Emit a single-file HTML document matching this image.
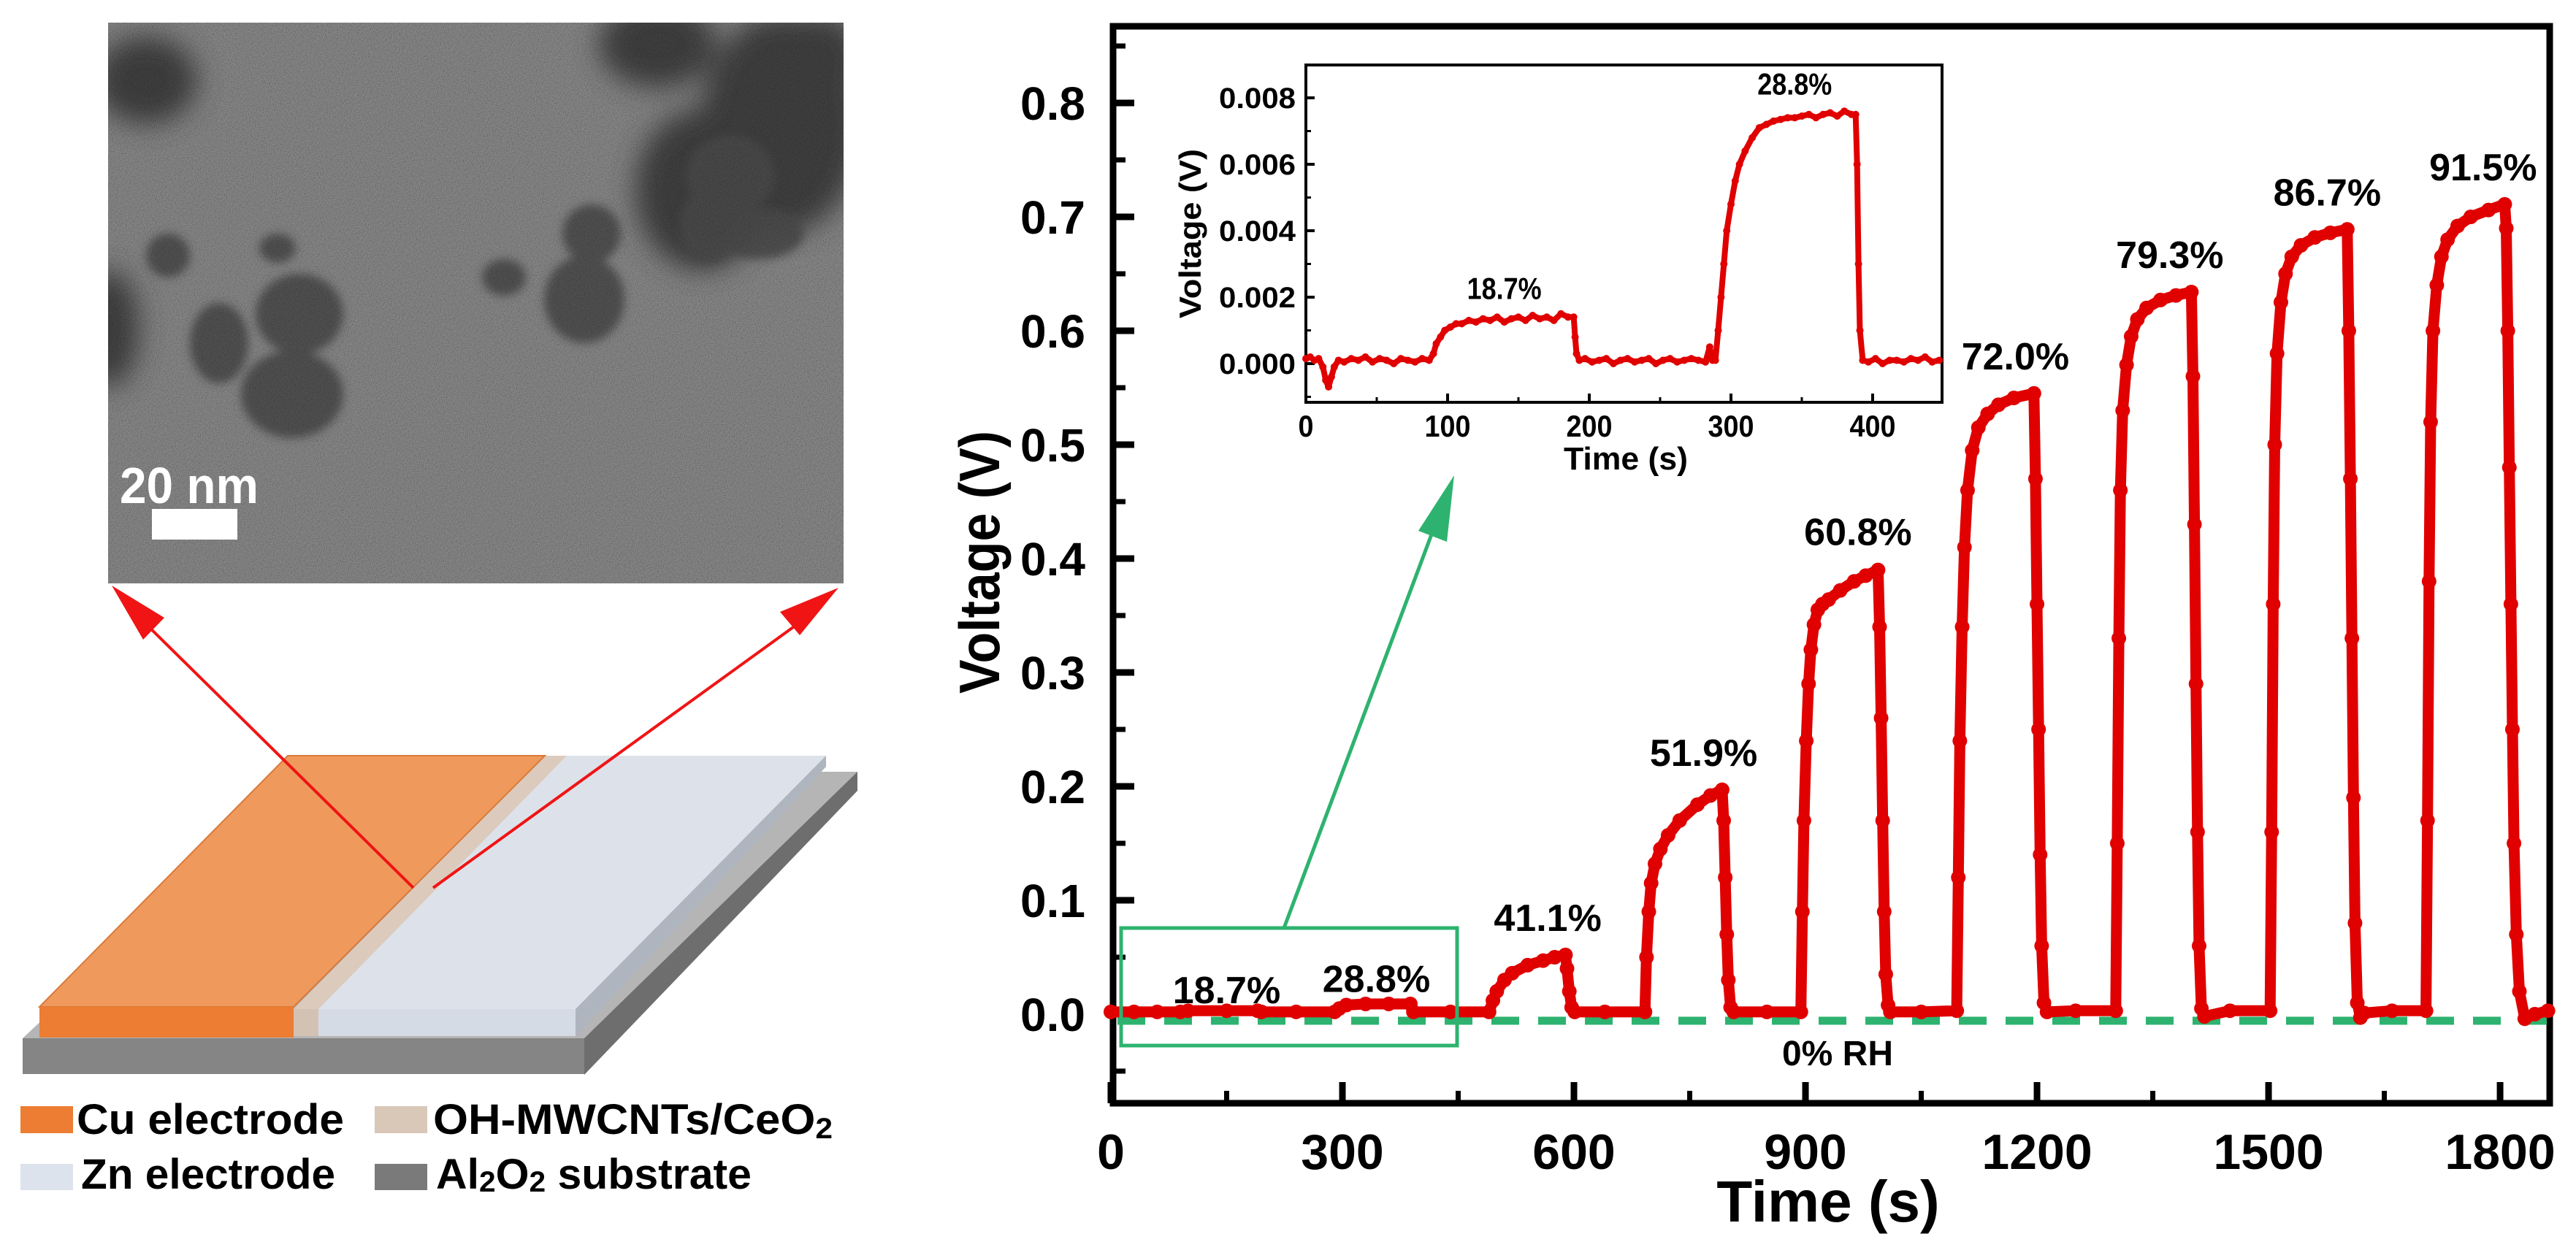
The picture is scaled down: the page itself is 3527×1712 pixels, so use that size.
<!DOCTYPE html>
<html><head><meta charset="utf-8">
<style>
html,body{margin:0;padding:0;background:#fff;}
svg{display:block;font-family:"Liberation Sans",Arial,sans-serif;}
</style></head>
<body>
<svg id="fig" width="3527" height="1712" viewBox="0 0 3527 1712" xmlns="http://www.w3.org/2000/svg">
<defs>
  <filter id="grain" x="0" y="0" width="100%" height="100%">
    <feTurbulence type="fractalNoise" baseFrequency="0.7" numOctaves="2" seed="3" result="n"/>
    <feColorMatrix type="matrix" values="1.4 0 0 0 -0.2  1.4 0 0 0 -0.2  1.4 0 0 0 -0.2  0 0 0 0 1" in="n"/>
  </filter>
  <filter id="blur6"><feGaussianBlur stdDeviation="6"/></filter>
  <filter id="blur18"><feGaussianBlur stdDeviation="18"/></filter>
  <clipPath id="temclip"><rect x="148" y="31" width="1007" height="768"/></clipPath>
</defs>

<!-- TEM image -->
<g clip-path="url(#temclip)">
  <rect x="148" y="31" width="1007" height="768" fill="#8e8e8e"/>
  <g filter="url(#blur18)" fill="#3a3a3a" opacity="0.9">
    <ellipse cx="900" cy="60" rx="80" ry="60"/>
    <ellipse cx="1070" cy="170" rx="110" ry="150"/>
    <ellipse cx="960" cy="260" rx="90" ry="110"/>
    <ellipse cx="1120" cy="80" rx="60" ry="60"/>
    <ellipse cx="200" cy="110" rx="70" ry="60"/>
    <ellipse cx="150" cy="450" rx="40" ry="80"/>
  </g>
  <g filter="url(#blur6)" fill="#505050" opacity="0.9">
    <ellipse cx="410" cy="430" rx="60" ry="55"/>
    <ellipse cx="400" cy="540" rx="70" ry="60"/>
    <ellipse cx="300" cy="470" rx="40" ry="55"/>
    <ellipse cx="800" cy="410" rx="55" ry="60"/>
    <ellipse cx="810" cy="320" rx="40" ry="40"/>
    <ellipse cx="970" cy="310" rx="40" ry="50"/>
    <ellipse cx="1040" cy="320" rx="60" ry="35"/>
    <ellipse cx="1000" cy="240" rx="60" ry="55"/>
    <ellipse cx="230" cy="350" rx="30" ry="30"/>
    <ellipse cx="690" cy="380" rx="30" ry="25"/>
    <ellipse cx="380" cy="340" rx="25" ry="20"/>
  </g>
  <rect x="148" y="31" width="1007" height="768" filter="url(#grain)" opacity="0.45" style="mix-blend-mode:multiply"/>
  <text x="164" y="689" font-size="70" font-weight="bold" fill="#fff" textLength="190" lengthAdjust="spacingAndGlyphs">20 nm</text>
  <rect x="208" y="697" width="117" height="42" fill="#fff"/>
</g>

<!-- device schematic -->
<g>
  <polygon points="31,1422 800,1422 1174,1057 1174,1080 800,1470 31,1470" fill="#8a8a8a"/>
  <polygon points="31,1422 800,1422 1174,1057 420,1057" fill="#b5b5b5"/>
  <polygon points="800,1422 1174,1057 1174,1083 800,1472" fill="#6e6e6e"/>
  <rect x="31" y="1422" width="769" height="49" fill="#858585"/>
  <polygon points="776,1035 1131,1035 1131,1050 788,1420 788,1382" fill="#aeb5be"/>
  <polygon points="436,1382 788,1382 1131,1035 776,1035" fill="#dde2ea"/>
  <rect x="436" y="1382" width="352" height="37" fill="#d5dbe4"/>
  <polygon points="402,1382 436,1382 776,1035 746,1035" fill="#dccbbd"/>
  <rect x="402" y="1382" width="34" height="37" fill="#d3c2b3"/>
  <polygon points="54,1379 402,1379 746,1035 394,1035" fill="#ef9a5c" stroke="#d9793a" stroke-width="2"/>
  <rect x="54" y="1379" width="348" height="42" fill="#ec7d32"/>
  <g stroke="#f01414" stroke-width="4" fill="#f01414">
    <line x1="566" y1="1216" x2="185" y2="840"/>
    <polygon points="153,802 225,846 196,876" stroke="none"/>
    <line x1="593" y1="1216" x2="1115" y2="838"/>
    <polygon points="1148,805 1095,870 1068,838" stroke="none"/>
  </g>
</g>

<!-- legend -->
<g font-weight="bold" font-size="58" fill="#000">
  <g>
    <rect x="28" y="1515" width="72" height="37" fill="#ec7d32"/>
    <text x="105" y="1553" textLength="366" lengthAdjust="spacingAndGlyphs">Cu electrode</text>
  </g>
  <g>
    <rect x="28" y="1594" width="72" height="36" fill="#dde3ec"/>
    <text x="111" y="1628" textLength="348" lengthAdjust="spacingAndGlyphs">Zn electrode</text>
  </g>
  <g>
    <rect x="513" y="1515" width="72" height="37" fill="#d9c7b8"/>
    <text x="593" y="1553" textLength="547" lengthAdjust="spacingAndGlyphs">OH-MWCNTs/CeO<tspan font-size="40" dy="6">2</tspan></text>
  </g>
  <g>
    <rect x="513" y="1594" width="72" height="36" fill="#7a7a7a"/>
    <text x="597" y="1628" textLength="432" lengthAdjust="spacingAndGlyphs">Al<tspan font-size="40" dy="4">2</tspan><tspan dy="-4">O</tspan><tspan font-size="40" dy="4">2</tspan><tspan dy="-4"> substrate</tspan></text>
  </g>
</g>

<g id="main"></g>
<g id="inset"></g>
</svg>

<script>
// ---- main chart data (time s, voltage V) ----
const mainTimes = [0,30,60,90,100,150,190,195,240,290,296,305,330,360,388,392,440,
 490,495,500,510,520,540,560,575,589,591,594,597,601,640,
 692,694,697,700,705,712,722,737,760,777,792,794,796,798,800,803,807,850,
 894,896,898,901,904,907,911,916,922,930,945,963,978,994,996,998,1000,1002,1004,1007,1010,1050,
 1096,1098,1100,1103,1106,1110,1116,1124,1136,1150,1170,1196,1198,1200,1202,1204,1206,1209,1213,1250,
 1302,1304,1306,1308,1311,1316,1322,1330,1342,1360,1380,1400,1402,1404,1406,1408,1410,1413,1417,1450,
 1502,1504,1506,1508,1511,1516,1522,1530,1542,1560,1580,1602,1604,1606,1608,1610,1612,1615,1619,1624,1660,
 1704,1706,1708,1710,1713,1718,1724,1732,1745,1762,1785,1806,1808,1810,1812,1814,1816,1818,1821,1825,1832,1845,1862];
const mainVolts = [0.002,0.002,0.002,0.002,0.003,0.003,0.003,0.002,0.002,0.002,0.005,0.008,0.009,0.009,0.009,0.002,0.002,
 0.002,0.012,0.02,0.03,0.036,0.043,0.047,0.05,0.052,0.04,0.02,0.006,0.002,0.002,
 0.002,0.05,0.09,0.115,0.132,0.145,0.157,0.17,0.184,0.192,0.197,0.17,0.12,0.07,0.03,0.006,0.002,0.002,
 0.002,0.09,0.17,0.24,0.29,0.32,0.342,0.355,0.36,0.364,0.372,0.38,0.385,0.39,0.34,0.26,0.17,0.09,0.035,0.008,0.002,0.002,
 0.003,0.12,0.24,0.34,0.41,0.46,0.495,0.515,0.527,0.535,0.541,0.545,0.47,0.36,0.25,0.14,0.06,0.01,0.002,0.003,
 0.003,0.15,0.33,0.46,0.53,0.57,0.595,0.61,0.62,0.627,0.631,0.634,0.56,0.43,0.29,0.16,0.06,0.005,-0.002,0.003,
 0.003,0.16,0.36,0.5,0.58,0.625,0.65,0.665,0.675,0.682,0.686,0.689,0.6,0.47,0.33,0.19,0.08,0.01,-0.003,0.001,0.003,
 0.003,0.17,0.38,0.52,0.6,0.64,0.665,0.68,0.692,0.7,0.706,0.711,0.69,0.6,0.48,0.36,0.25,0.15,0.07,0.02,-0.004,0.0,0.003,0.003];
const xTickValues = [0,300,600,900,1200,1500,1800];
const yTickValues = [0.0,0.1,0.2,0.3,0.4,0.5,0.6,0.7,0.8];
const peakLabels = ["18.7%","28.8%","41.1%","51.9%","60.8%","72.0%","79.3%","86.7%","91.5%"];
const peakLabelTimes = [150,344,566,768,968,1172,1372,1576,1778];
const peakLabelVolts = [0.0095,0.0195,0.073,0.218,0.412,0.566,0.655,0.71,0.732];

// ---- inset data ----
const insetTimes = [0,3,6,9,12,14,16,18,20,23,27,32,37,42,47,52,57,62,67,72,77,82,87,90,92,95,98,102,106,110,115,120,125,130,135,140,145,150,155,160,165,170,175,180,185,189,190,191,193,197,202,207,212,217,222,227,232,237,242,247,252,257,262,267,272,277,282,285,287,289,291,293,295,297,300,303,306,310,315,320,325,330,335,340,345,350,355,360,365,370,375,380,385,388,389,390,391,393,397,402,407,412,417,422,427,432,437,442,447];
const insetVolts = [0.00015,0.0002,0.0001,0.00015,-0.0001,-0.0005,-0.0007,-0.0004,-0.0001,0.0001,0.00005,0.00015,0.0001,0.0002,0.00005,0.00015,0.0001,0.0,0.00015,0.0001,0.00005,0.00015,0.0001,0.0003,0.0006,0.0008,0.001,0.0011,0.0012,0.0012,0.0013,0.00125,0.00135,0.0013,0.0014,0.00125,0.00135,0.0014,0.0013,0.00145,0.00135,0.0014,0.0013,0.0015,0.0014,0.0014,0.0008,0.0003,0.0001,0.00015,0.00005,0.0001,0.00015,0.0,0.0001,0.00015,0.00005,0.0001,0.00015,0.0,0.0001,0.00015,0.00005,0.0001,0.00015,0.0001,0.00005,0.0005,0.0001,0.0001,0.001,0.002,0.003,0.004,0.0048,0.0055,0.006,0.0064,0.0068,0.0071,0.0072,0.0073,0.00735,0.0074,0.0074,0.00745,0.0075,0.0074,0.0075,0.00755,0.00745,0.0076,0.0075,0.0075,0.006,0.003,0.001,0.0001,0.00005,0.00015,0.0,0.0001,0.0001,0.00005,0.00015,0.0001,0.0002,0.00005,0.0001];
const insetXTicks = [0,100,200,300,400];
const insetYTicks = [0.000,0.002,0.004,0.006,0.008];
const insetLabels = ["18.7%","28.8%"];
const insetLabelTimes = [140,345];
const insetLabelVolts = [0.00195,0.0081];

const NS = "http://www.w3.org/2000/svg";
function mk(tag, attrs, parent){const e=document.createElementNS(NS,tag);for(const k in attrs)e.setAttribute(k,attrs[k]);parent.appendChild(e);return e;}

const X = t => 1521 + t*1.0567;
const Y = v => 1389 - v*1560;
const XI = t => 1788 + t*1.94;
const YI = v => 498 - v*45500;

const main = document.getElementById('main');
const frame = mk('rect',{x:1524,y:36,width:1967,height:1475,fill:'none',stroke:'#000','stroke-width':9},main);



xTickValues.forEach(t=>{
  const l = mk('line',{x1:X(t),x2:X(t),y1:1511,y2:1482,stroke:'#000','stroke-width':9},main);
  
  
  const tx = mk('text',{x:X(t),y:1601,'font-size':68,'font-weight':'bold','text-anchor':'middle'},main);
  tx.textContent = String(t);
  
  
});
for(let t=150;t<1862;t+=300){
  const l = mk('line',{x1:X(t),x2:X(t),y1:1511,y2:1494,stroke:'#000','stroke-width':7},main);
  
  
}
yTickValues.forEach(v=>{
  const l = mk('line',{x1:1524,x2:1553,y1:Y(v),y2:Y(v),stroke:'#000','stroke-width':9},main);
  
  
  const tx = mk('text',{x:1486,y:Y(v)+23,'font-size':64,'font-weight':'bold','text-anchor':'end'},main);
  tx.textContent = v.toFixed(1);
  
  
});
for(let v=-0.05;v<0.86;v+=0.1){
  const l = mk('line',{x1:1524,x2:1541,y1:Y(v),y2:Y(v),stroke:'#000','stroke-width':7},main);
  
  
}
const xt = mk('text',{x:2503,y:1673,'font-size':80,'font-weight':'bold','text-anchor':'middle'},main);
xt.textContent='Time (s)';


const yt = mk('text',{x:0,y:0,'font-size':78,'font-weight':'bold','text-anchor':'middle',transform:'translate(1368,770) rotate(-90)',textLength:360,lengthAdjust:'spacingAndGlyphs'},main);
yt.textContent='Voltage (V)';



const dl = mk('line',{x1:1530,x2:3487,y1:1398,y2:1398,stroke:'#2db36f','stroke-width':11,'stroke-dasharray':'38 26'},main);


const rh = mk('text',{x:2516,y:1459,'font-size':48,'font-weight':'bold','text-anchor':'middle'},main);
rh.textContent='0% RH';



const pts = mainTimes.map((t,i)=>X(t).toFixed(1)+','+Y(mainVolts[i]).toFixed(1)).join(' ');
const line = mk('polyline',{points:pts,fill:'none',stroke:'#e00000','stroke-width':15,'stroke-linejoin':'round','stroke-linecap':'round'},main);


mainTimes.forEach((t,i)=>{
  const c = mk('circle',{cx:X(t),cy:Y(mainVolts[i]),r:10,fill:'#e00000'},main);
  
  
});
peakLabels.forEach((s,i)=>{
  const tx = mk('text',{x:X(peakLabelTimes[i]),y:Y(peakLabelVolts[i]),'font-size':52,'font-weight':'bold','text-anchor':'middle'},main);
  tx.textContent = s;
  
  
});

const zb = mk('rect',{x:1535,y:1271,width:460,height:161,fill:'none',stroke:'#2db36f','stroke-width':5},main);


const za = mk('line',{x1:1758,y1:1271,x2:1972,y2:700,stroke:'#2db36f','stroke-width':5},main);


const zh = mk('polygon',{points:'1991,651 1981,742 1942,727',fill:'#2db36f'},main);



const inset = document.getElementById('inset');
const ibg = mk('rect',{x:1788,y:89,width:871,height:462,fill:'#fff',stroke:'#000','stroke-width':4},inset);


insetXTicks.forEach(t=>{
  const l = mk('line',{x1:XI(t),x2:XI(t),y1:551,y2:539,stroke:'#000','stroke-width':4},inset);
  
  
  const tx = mk('text',{x:XI(t),y:598,'font-size':42,'font-weight':'bold','text-anchor':'middle',textLength:String(t).length*21,lengthAdjust:'spacingAndGlyphs'},inset);
  tx.textContent=String(t);
  
  
});
for(let t=50;t<450;t+=100){
  const l = mk('line',{x1:XI(t),x2:XI(t),y1:551,y2:544,stroke:'#000','stroke-width':3},inset);
  
  
}
insetYTicks.forEach(v=>{
  const l = mk('line',{x1:1788,x2:1800,y1:YI(v),y2:YI(v),stroke:'#000','stroke-width':4},inset);
  
  
  const tx = mk('text',{x:1774,y:YI(v)+14,'font-size':40,'font-weight':'bold','text-anchor':'end',textLength:105,lengthAdjust:'spacingAndGlyphs'},inset);
  tx.textContent=v.toFixed(3);
  
  
});
for(let v=-0.001;v<0.009;v+=0.002){
  const l = mk('line',{x1:1788,x2:1795,y1:YI(v),y2:YI(v),stroke:'#000','stroke-width':3},inset);
  
  
}
const ixt = mk('text',{x:2226,y:643,'font-size':44,'font-weight':'bold','text-anchor':'middle',textLength:170,lengthAdjust:'spacingAndGlyphs'},inset);
ixt.textContent='Time (s)';


const iyt = mk('text',{x:0,y:0,'font-size':42,'font-weight':'bold','text-anchor':'middle',transform:'translate(1644,320) rotate(-90)',textLength:232,lengthAdjust:'spacingAndGlyphs'},inset);
iyt.textContent='Voltage (V)';


const ipts = insetTimes.map((t,i)=>XI(t).toFixed(1)+','+YI(insetVolts[i]).toFixed(1)).join(' ');
const il = mk('polyline',{points:ipts,fill:'none',stroke:'#e00000','stroke-width':8,'stroke-linejoin':'round'},inset);


insetTimes.forEach((t,i)=>{
  const c = mk('circle',{cx:XI(t),cy:YI(insetVolts[i]),r:5,fill:'#e00000'},inset);
  
  
});
insetLabels.forEach((s,i)=>{
  const tx = mk('text',{x:XI(insetLabelTimes[i]),y:YI(insetLabelVolts[i]),'font-size':42,'font-weight':'bold','text-anchor':'middle',textLength:102,lengthAdjust:'spacingAndGlyphs'},inset);
  tx.textContent=s;
  
  
});
</script>
</body></html>
